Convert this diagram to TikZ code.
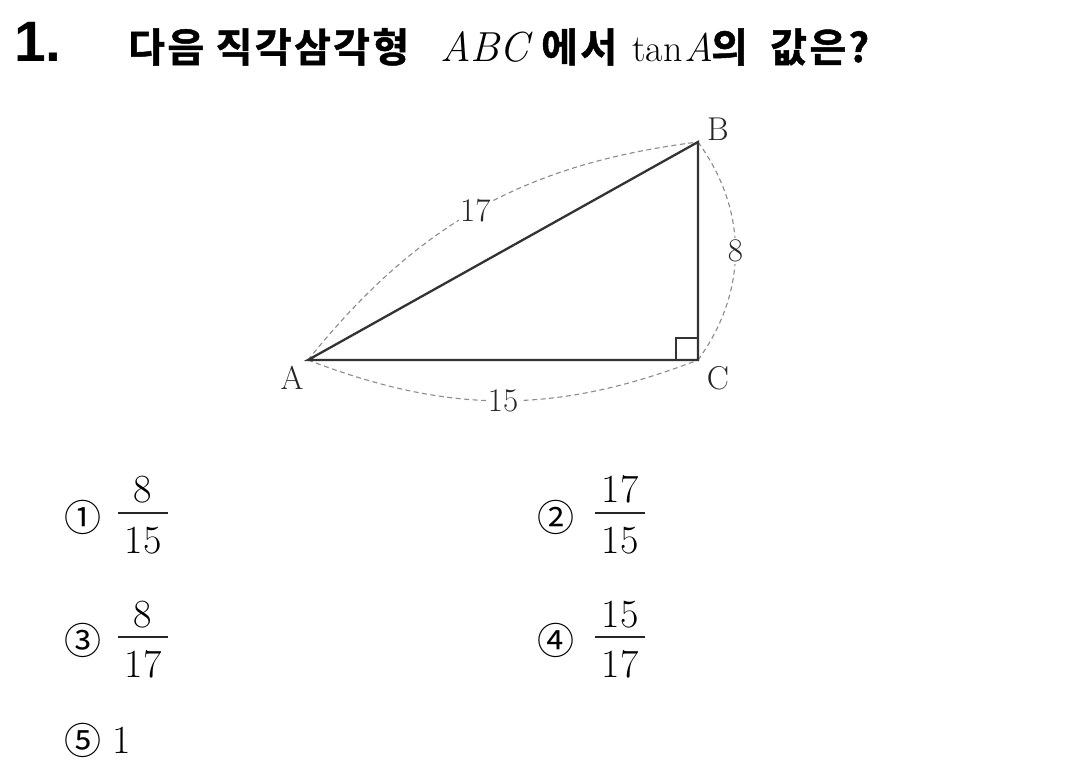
\documentclass[tikz,border=0pt]{standalone}
\usepackage{fontspec}
\usetikzlibrary{calc}
\setmainfont{Latin Modern Roman}
\newfontfamily\kr{Noto Sans CJK KR}
\newfontfamily\krb{Noto Sans CJK KR Bold}[LetterSpace=6,FakeBold=1.2]
\newfontfamily\arl{Liberation Sans}
\newcommand\choicefrac[5]{%
  \node[fr, anchor=base] (#1n) at ($(#2)+(0,10)$) {#3};
  \node[fr, anchor=base] (#1d) at ($(#2)+(0,-40)$) {#4};
  \draw[fbar] ($(#2)+(-#5,0)$) -- ($(#2)+(#5,0)$);
}
\begin{document}
\begin{tikzpicture}[x=1pt,y=1pt,
  tri/.style={line width=2.3pt, draw=black!80, line join=miter},
  dim/.style={draw=black!45, line width=1.1pt, dash pattern=on 5pt off 3.5pt},
  dimlbl/.style={fill=white, inner sep=1.5pt, text=black!85, font=\fontsize{33}{36}\selectfont},
  vlbl/.style={inner sep=0pt, text=black!85, font=\fontsize{33}{36}\selectfont},
  ttl/.style={inner sep=0pt, anchor=base west, font=\krb\fontsize{40}{46}\selectfont},
  ttlm/.style={inner sep=0pt, anchor=base west, font=\fontsize{42}{48}\selectfont},
  circ/.style={inner sep=0pt, font=\kr\fontsize{37}{40}\selectfont},
  fr/.style={inner sep=0pt, font=\fontsize{40}{46}\selectfont},
  fbar/.style={line width=2pt, draw=black!85}]
\useasboundingbox (0,0) rectangle (1070,774);
\fill[white] (0,0) rectangle (1070,774);
% title
\node[inner sep=0pt, anchor=base west, font=\arl\bfseries\fontsize{57}{64}\selectfont] (qn) at (14,712) {1.};
\node[ttl] (t1) at (128,712) {다음 직각삼각형};
\node[ttlm] (t2) at (440,712) {\itshape ABC};
\node[ttl] (t3) at (541,712) {에서};
\node[ttlm, font=\fontsize{38}{42}\selectfont] (t4) at (632,712) {tan};
\node[ttlm, font=\fontsize{40}{44}\selectfont\itshape] (t4a) at (684,712) {A};
\node[ttl] (t5) at (711,712) {의};
\node[ttl] (t6) at (770,712) {값은?};
% triangle
\coordinate (A) at (308,414);
\coordinate (B) at (698,632);
\coordinate (C) at (698,414);
\draw[dim] (A) to[bend left=22] node[dimlbl, pos=0.49] (l17) {17} (B);
\draw[dim] (A) to[bend right=21] node[dimlbl, pos=0.5] (l15) {15} (C);
\draw[dim] (C) to[bend right=36] node[dimlbl, pos=0.5] (l8) {8} (B);
\draw[tri] (A) -- (C) -- (B) -- cycle;
\draw[line width=1.2pt, draw=black!80] ($(C)+(-22,0)$) -- ($(C)+(-22,22)$) -- ($(C)+(0,22)$);
\node[vlbl] (la) at (292,396) {A};
\node[vlbl] (lb) at (718,645) {B};
\node[vlbl] (lc) at (718,396) {C};
% choices
\coordinate (f1) at (143,261);
\coordinate (f2) at (620,261);
\coordinate (f3) at (143,137);
\coordinate (f4) at (620,137);
\node[circ] (c1) at (83,257) {①};
\choicefrac{a}{f1}{8}{15}{25}
\node[circ] (c2) at (556,257) {②};
\choicefrac{b}{f2}{17}{15}{25}
\node[circ] (c3) at (83,134) {③};
\choicefrac{c}{f3}{8}{17}{25}
\node[circ] (c4) at (556,134) {④};
\choicefrac{d}{f4}{15}{17}{25}
\node[circ] (c5) at (83,34) {⑤};
\node[fr, anchor=base] (e1) at (122,21) {1};
\end{tikzpicture}
\end{document}
